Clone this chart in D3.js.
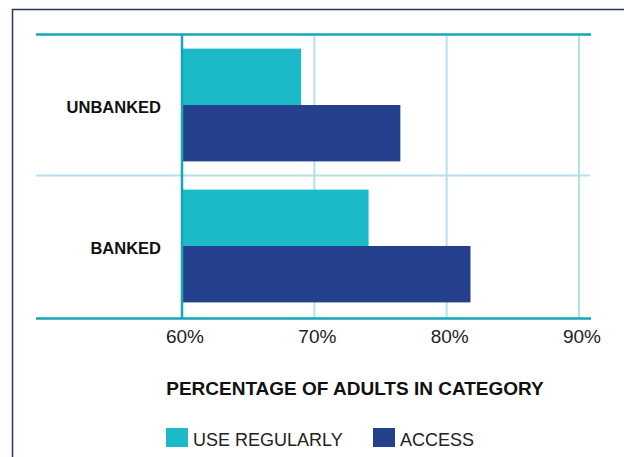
<!DOCTYPE html>
<html>
<head>
<meta charset="utf-8">
<script src="https://cdn.jsdelivr.net/npm/d3@7"></script>
<style>
  html, body { margin: 0; padding: 0; background: #fff; }
  svg { display: block; font-family: "Liberation Sans", Arial, sans-serif; }
</style>
</head>
<body>
<svg id="chart" width="624" height="457"></svg>
<script>
// Categories and series values (percent of adults)
const categories = ["UNBANKED", "BANKED"];
const seriesNames = ["USE REGULARLY", "ACCESS"];
const useRegularly = [69.0, 74.1];
const access = [76.5, 81.8];
const tickValues = [60, 70, 80, 90];
const tickLabels = ["60%", "70%", "80%", "90%"];
const axisTitle = "PERCENTAGE OF ADULTS IN CATEGORY";

const colors = { "USE REGULARLY": "#1cbac8", "ACCESS": "#25408c" };
const lineTeal = "#13a7b6";
const gridColor = "#b2e2e9";

const svg = d3.select("#chart");

// Outer frame: left and top edges
svg.append("path")
  .attr("d", "M12.5,457 L12.5,9.5 L624,9.5")
  .attr("fill", "none")
  .attr("stroke", "#24375e")
  .attr("stroke-width", 1.5);

const plotLeft = 36, plotRight = 591;
const yTop = 34.5, yBottom = 318.5;

const x = d3.scaleLinear().domain([60, 90]).range([182, 579]);
const y = d3.scaleBand().domain(categories).range([yTop, 316.5]).paddingInner(0).paddingOuter(0);
const ySub = d3.scaleBand().domain(seriesNames).range([0, y.bandwidth()]).paddingOuter(0.25).paddingInner(0);

const rows = categories.map((c, i) => ({
  category: c,
  values: [
    { key: "USE REGULARLY", value: useRegularly[i] },
    { key: "ACCESS", value: access[i] }
  ]
}));

// Vertical gridlines
svg.append("g").selectAll("line")
  .data(tickValues.slice(1))
  .join("line")
  .attr("x1", d => x(d)).attr("x2", d => x(d))
  .attr("y1", yTop).attr("y2", yBottom)
  .attr("stroke", gridColor).attr("stroke-width", 2);

// Separator between categories
svg.append("g").selectAll("line")
  .data(categories.slice(1))
  .join("line")
  .attr("x1", plotLeft).attr("x2", plotRight - 1)
  .attr("y1", d => y(d)).attr("y2", d => y(d))
  .attr("stroke", gridColor).attr("stroke-width", 2);

// Bars
const groups = svg.append("g").selectAll("g")
  .data(rows)
  .join("g")
  .attr("transform", d => `translate(0,${y(d.category)})`);

groups.selectAll("rect")
  .data(d => d.values)
  .join("rect")
  .attr("x", x(60))
  .attr("y", d => ySub(d.key))
  .attr("width", d => x(d.value) - x(60))
  .attr("height", ySub.bandwidth())
  .attr("fill", d => colors[d.key]);

// Baseline at 60%
svg.append("line")
  .attr("x1", x(60)).attr("x2", x(60))
  .attr("y1", yTop).attr("y2", yBottom)
  .attr("stroke", lineTeal).attr("stroke-width", 2.5);

// Top and bottom rules
[yTop, yBottom].forEach(yy => {
  svg.append("line")
    .attr("x1", plotLeft).attr("x2", plotRight)
    .attr("y1", yy).attr("y2", yy)
    .attr("stroke", lineTeal).attr("stroke-width", 2.5);
});

// Category labels
svg.append("g").selectAll("text")
  .data(categories)
  .join("text")
  .attr("x", 161)
  .attr("y", d => y(d) + y.bandwidth() / 2 + 8)
  .attr("text-anchor", "end")
  .attr("font-weight", "bold")
  .attr("font-size", "16.5px")
  .attr("fill", "#111")
  .text(d => d);

// Tick labels
svg.append("g").selectAll("text")
  .data(tickValues)
  .join("text")
  .attr("x", d => x(d) + 3)
  .attr("y", 343)
  .attr("text-anchor", "middle")
  .attr("font-size", "19px")
  .attr("fill", "#222")
  .text((d, i) => tickLabels[i]);

// Axis title
svg.append("text")
  .attr("x", 355)
  .attr("y", 395)
  .attr("text-anchor", "middle")
  .attr("font-weight", "bold")
  .attr("font-size", "19px")
  .attr("fill", "#111")
  .text(axisTitle);

// Legend
const legendItems = [
  { key: "USE REGULARLY", x: 166 },
  { key: "ACCESS", x: 373 }
];
const lg = svg.append("g").selectAll("g")
  .data(legendItems)
  .join("g")
  .attr("transform", d => `translate(${d.x},428)`);
lg.append("rect")
  .attr("width", 22).attr("height", 19)
  .attr("fill", d => colors[d.key]);
lg.append("text")
  .attr("x", 27).attr("y", 18)
  .attr("font-size", "18px")
  .attr("fill", "#222")
  .text(d => d.key);
</script>
</body>
</html>
